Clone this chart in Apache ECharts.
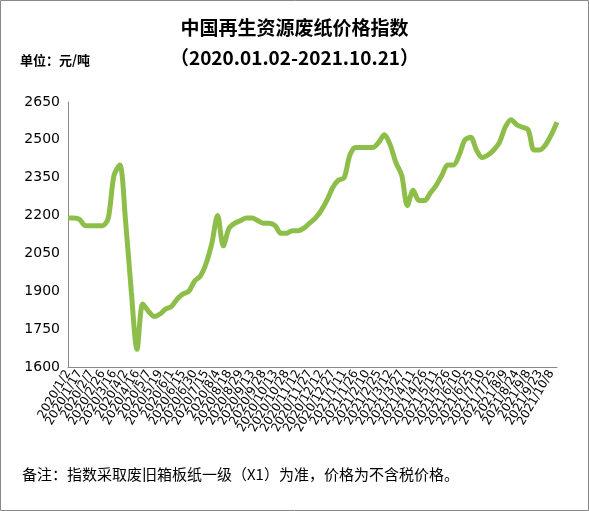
<!DOCTYPE html>
<html><head><meta charset="utf-8">
<script src="https://cdn.jsdelivr.net/npm/echarts@6/dist/echarts.min.js"></script>
<style>html,body{margin:0;padding:0;background:#fff}#c{width:589px;height:511px}</style>
</head><body><div id="c"></div>
<script>
const tickLabels = ["2020/1/2","2020/1/17","2020/2/7","2020/2/26","2020/3/16","2020/4/2","2020/4/16","2020/5/7","2020/5/19","2020/6/1","2020/6/15","2020/6/30","2020/7/15","2020/8/4","2020/8/18","2020/8/29","2020/9/13","2020/9/28","2020/10/13","2020/10/28","2020/11/12","2020/11/27","2020/12/12","2020/12/27","2021/1/11","2021/1/26","2021/2/10","2021/2/25","2021/3/12","2021/3/27","2021/4/11","2021/4/26","2021/5/11","2021/5/26","2021/6/10","2021/6/25","2021/7/10","2021/7/25","2021/8/9","2021/8/24","2021/9/8","2021/9/23","2021/10/8"];
const indexValues = [2190,2190,2185,2160,2160,2160,2160,2190,2360,2400,2180,1900,1670,1850,1820,1800,1810,1830,1840,1870,1890,1900,1940,1960,2010,2090,2200,2080,2150,2170,2180,2190,2190,2180,2170,2170,2160,2130,2130,2140,2140,2150,2170,2190,2220,2260,2310,2340,2350,2440,2470,2470,2470,2470,2490,2520,2480,2410,2360,2240,2300,2260,2260,2290,2320,2360,2400,2400,2440,2500,2510,2460,2430,2440,2460,2490,2550,2580,2560,2550,2540,2460,2460,2480,2520,2570];
const cats = indexValues.map((v,i)=> i%2===0 && tickLabels[i/2] ? tickLabels[i/2] : ' '.repeat(i+1));
const chart = echarts.init(document.getElementById('c'));
chart.setOption({
  animation:false,
  graphic:[
    {type:'rect',shape:{x:0.5,y:0.5,width:588,height:510},style:{fill:'none',stroke:'#888',lineWidth:1}},
    {type:'text',left:'center',top:18,style:{text:'中国再生资源废纸价格指数',font:'bold 19px "Noto Sans CJK SC"',fill:'#000'}},
    {type:'text',left:'center',top:48,style:{text:'（2020.01.02-2021.10.21）',font:'bold 19px "Noto Sans CJK SC"',fill:'#000'}},
    {type:'text',left:20,top:54,style:{text:'单位：元/吨',font:'bold 13px "Noto Sans CJK SC"',fill:'#000'}},
    {type:'text',left:22,top:467,style:{text:'备注：指数采取废旧箱板纸一级（X1）为准，价格为不含税价格。',font:'15px "Noto Sans CJK SC"',fill:'#000'}}
  ],
  grid:{left:68,right:32,top:102,bottom:144,containLabel:false,outerBoundsMode:'none'},
  xAxis:{type:'category',data:cats,boundaryGap:false,
    axisLine:{lineStyle:{color:'#888'}},axisTick:{show:false},
    axisLabel:{interval:0,hideOverlap:false,rotate:60,color:'#000',fontSize:12,fontFamily:'DejaVu Sans',margin:4}},
  yAxis:{type:'value',min:1600,max:2650,interval:150,
    axisLine:{show:true,lineStyle:{color:'#888'}},axisTick:{show:false},splitLine:{show:false},
    axisLabel:{color:'#000',fontSize:14,fontFamily:'DejaVu Sans',formatter:v=>String(v)}},
  series:[{type:'line',data:indexValues,showSymbol:false,smooth:0.3,lineStyle:{color:'#8DBE4A',width:5}}]
});
</script></body></html>
